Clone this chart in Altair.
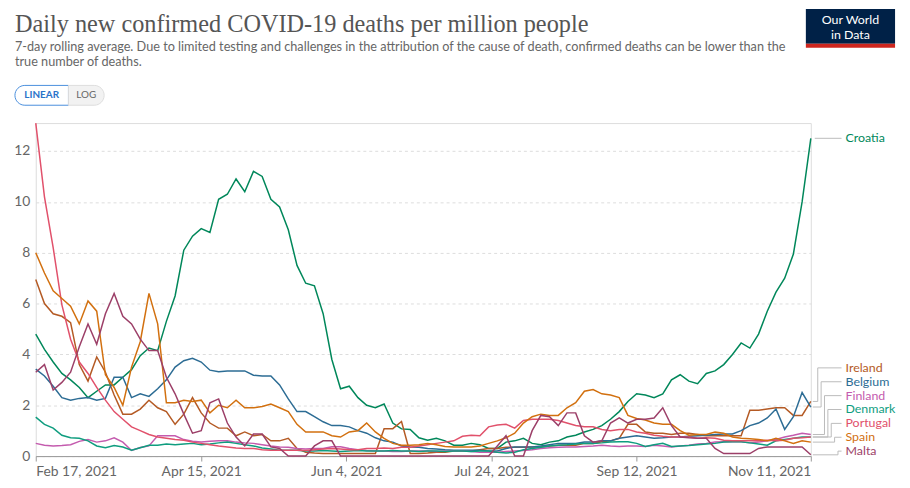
import altair as alt
import pandas as pd

# ---------------- data ----------------
START = "2021-02-17"
N_POINTS = 90  # one value every 3 days, Feb 17 -> Nov 11, 2021
SPAN_DAYS = 267
dates = pd.date_range(START, periods=N_POINTS, freq="3D").strftime("%Y-%m-%d").tolist()

countries = ["Croatia", "Ireland", "Belgium", "Finland", "Denmark", "Portugal", "Spain", "Malta"]
colors = ["#00875A", "#B45A24", "#2C6C94", "#C45BAE", "#0F9D7F", "#E1516B", "#D2700F", "#9C3F68"]

croatia = [4.8, 4.2, 3.7, 3.25, 3.0, 2.7, 2.3, 2.55, 2.8, 2.8,
           3.1, 3.4, 3.95, 4.25, 4.15, 5.3, 6.3, 8.1, 8.65, 8.95,
           8.8, 10.1, 10.3, 10.9, 10.4, 11.2, 11.0, 10.1, 9.8, 8.9,
           7.5, 6.8, 6.7, 5.6, 3.8, 2.65, 2.75, 2.3, 2.0, 1.9,
           2.05, 1.3, 1.07, 1.05, 0.72, 0.62, 0.7, 0.6, 0.43, 0.43,
           0.5, 0.45, 0.3, 0.3, 0.55, 0.6, 0.7, 0.5, 0.45, 0.55,
           0.6, 0.75, 0.82, 0.95, 1.05, 1.2, 1.45, 1.75, 2.15, 2.45,
           2.4, 2.3, 2.45, 3.0, 3.2, 2.95, 2.85, 3.25, 3.35, 3.6,
           4.0, 4.45, 4.25, 4.8, 5.7, 6.45, 7.0, 7.95, 10.0, 12.5]
ireland = [6.95, 6.0, 5.6, 5.5, 5.25, 3.6, 2.95, 3.9, 3.3, 2.4,
           1.65, 1.65, 1.85, 2.2, 1.9, 1.75, 1.25, 1.65, 2.3, 1.7,
           1.3, 1.1, 1.1, 0.8, 0.95, 0.8, 0.85, 0.6, 0.6, 0.7,
           0.3, 0.15, 0.12, 0.1, 0.1, 0.1, 0.1, 0.1, 0.1, 0.1,
           1.08, 1.08, 1.36, 0.1, 0.1, 0.12, 0.15, 0.15, 0.2, 0.2,
           0.2, 0.25, 0.3, 0.3, 0.35, 0.35, 0.35, 0.36, 0.36, 0.4,
           0.43, 0.43, 0.43, 0.5, 0.5, 0.56, 0.6, 0.7, 1.25, 1.25,
           0.95, 0.9, 0.9, 0.85, 0.9, 0.9, 0.85, 0.8, 0.8, 0.8,
           0.8, 0.8, 1.8, 1.8, 1.85, 1.9, 1.9, 1.6, 1.6, 2.15]
belgium = [3.42, 3.15, 2.75, 2.3, 2.2, 2.27, 2.3, 2.2, 2.27, 3.1,
           3.1, 2.3, 2.45, 2.35, 2.65, 3.0, 3.5, 3.75, 3.85, 3.7,
           3.38, 3.32, 3.35, 3.35, 3.35, 3.18, 3.15, 3.15, 2.8, 2.25,
           1.75, 1.75, 1.55, 1.35, 1.2, 1.2, 1.15, 1.0, 0.9, 0.72,
           0.6, 0.55, 0.4, 0.36, 0.35, 0.3, 0.28, 0.25, 0.23, 0.23,
           0.23, 0.23, 0.2, 0.2, 0.3, 0.36, 0.36, 0.36, 0.4, 0.45,
           0.5, 0.5, 0.5, 0.55, 0.55, 0.6, 0.6, 0.7, 0.75, 0.8,
           0.75, 0.7, 0.72, 0.75, 0.75, 0.78, 0.8, 0.82, 0.85, 0.87,
           0.87, 1.0, 1.2, 1.3, 1.5, 1.85, 1.05, 1.55, 2.5, 1.93]
finland = [0.5, 0.43, 0.4, 0.42, 0.45, 0.58, 0.65, 0.55, 0.6, 0.72,
           0.55, 0.22, 0.34, 0.4, 0.8, 0.8, 0.8, 0.65, 0.58, 0.55,
           0.58, 0.6, 0.6, 0.55, 0.52, 0.5, 0.45, 0.4, 0.36, 0.35,
           0.3, 0.28, 0.3, 0.3, 0.37, 0.37, 0.3, 0.25, 0.22, 0.2,
           0.2, 0.18, 0.18, 0.2, 0.2, 0.2, 0.18, 0.2, 0.2, 0.2,
           0.18, 0.15, 0.15, 0.15, 0.18, 0.2, 0.22, 0.25, 0.3, 0.33,
           0.35, 0.36, 0.36, 0.38, 0.4, 0.43, 0.4, 0.38, 0.4, 0.4,
           0.38, 0.43, 0.4, 0.36, 0.4, 0.43, 0.48, 0.5, 0.55, 0.56,
           0.56, 0.56, 0.52, 0.55, 0.6, 0.65, 0.75, 0.82, 0.9, 0.85]
denmark = [1.53, 1.25, 1.1, 0.82, 0.72, 0.7, 0.6, 0.4, 0.33, 0.42,
           0.36, 0.23, 0.33, 0.43, 0.43, 0.48, 0.45, 0.48, 0.5, 0.45,
           0.48, 0.52, 0.55, 0.5, 0.45, 0.4, 0.32, 0.28, 0.23, 0.23,
           0.23, 0.2, 0.2, 0.22, 0.2, 0.18, 0.2, 0.22, 0.2, 0.2,
           0.2, 0.22, 0.2, 0.2, 0.18, 0.2, 0.2, 0.18, 0.2, 0.2,
           0.18, 0.2, 0.2, 0.15, 0.12, 0.15, 0.25, 0.3, 0.35, 0.4,
           0.43, 0.45, 0.48, 0.5, 0.5, 0.52, 0.55, 0.56, 0.56, 0.5,
           0.38, 0.45, 0.5, 0.38, 0.4, 0.42, 0.45, 0.48, 0.5, 0.55,
           0.56, 0.56, 0.52, 0.48, 0.43, 0.6, 0.65, 0.7, 0.75, 0.75]
portugal = [13.1, 10.2, 8.2, 5.95, 4.6, 3.7, 3.25, 2.7, 2.2, 1.75,
            1.45, 1.15, 1.0, 0.85, 0.75, 0.7, 0.65, 0.62, 0.55, 0.5,
            0.45, 0.4, 0.36, 0.32, 0.3, 0.3, 0.25, 0.23, 0.23, 0.23,
            0.23, 0.22, 0.25, 0.28, 0.3, 0.28, 0.25, 0.25, 0.3, 0.3,
            0.32, 0.3, 0.35, 0.35, 0.4, 0.45, 0.5, 0.55, 0.6, 0.78,
            0.82, 0.8, 1.15, 1.22, 1.25, 1.1, 1.4, 1.45, 1.45, 1.45,
            1.4, 1.3, 1.2, 1.15, 1.15, 1.05, 1.0, 1.05, 1.05, 0.95,
            0.9, 0.82, 0.78, 0.75, 0.75, 0.75, 0.7, 0.72, 0.7, 0.62,
            0.6, 0.6, 0.6, 0.6, 0.62, 0.6, 0.62, 0.7, 0.72, 0.75]
spain = [8.0, 7.2, 6.5, 6.2, 5.9, 5.2, 6.1, 5.7, 3.2, 2.7,
         2.0, 3.5, 4.5, 6.4, 5.2, 2.1, 2.1, 2.2, 2.15, 2.2,
         1.7, 2.0, 1.9, 2.2, 1.9, 1.9, 1.95, 2.05, 1.9, 1.75,
         1.25, 0.95, 0.95, 0.95, 0.8, 0.75, 0.95, 1.0, 1.3, 0.95,
         0.7, 0.5, 0.43, 0.43, 0.45, 0.5, 0.45, 0.38, 0.36, 0.36,
         0.36, 0.4, 0.5, 0.6, 0.72, 0.9, 1.3, 1.55, 1.65, 1.6,
         1.6, 1.9, 2.1, 2.55, 2.62, 2.45, 2.4, 2.3, 1.6, 1.48,
         1.42, 1.3, 1.25, 1.25, 1.0, 0.82, 0.85, 0.85, 0.95, 0.9,
         0.75, 0.7, 0.68, 0.65, 0.6, 0.7, 0.6, 0.5, 0.6, 0.55]
malta = [3.3, 3.6, 2.6, 2.9, 3.3, 4.3, 5.2, 4.4, 5.6, 6.4,
         5.5, 5.2, 4.6, 4.15, 4.15, 3.1, 2.45, 1.65, 0.9, 1.0,
         2.1, 2.25, 1.3, 0.75, 0.4, 0.87, 0.87, 0.36, 0.3, 0.0,
         0.0, 0.0, 0.4, 0.6, 0.6, 0.0, 0.0, 0.0, 0.0, 0.0,
         0.0, 0.0, 0.0, 0.0, 0.0, 0.0, 0.0, 0.0, 0.0, 0.0,
         0.0, 0.0, 0.0, 0.4, 0.8, 0.0, 0.0, 1.0, 1.6, 1.55,
         1.2, 1.7, 1.7, 0.8, 0.55, 0.6, 1.3, 1.5, 1.3, 1.45,
         1.45, 1.5, 1.9, 1.2, 0.75, 0.72, 0.7, 0.7, 0.3, 0.1,
         0.1, 0.1, 0.1, 0.3, 0.36, 0.36, 0.36, 0.36, 0.36, 0.05]

series = {"Croatia": croatia, "Ireland": ireland, "Belgium": belgium, "Finland": finland,
          "Denmark": denmark, "Portugal": portugal, "Spain": spain, "Malta": malta}

y_ticks = [0, 2, 4, 6, 8, 10, 12]
x_tick_dates = [(2021, 2, 17), (2021, 4, 15), (2021, 6, 4), (2021, 7, 24), (2021, 9, 12), (2021, 11, 11)]

TITLE = "Daily new confirmed COVID-19 deaths per million people"
SUB1 = ("7-day rolling average. Due to limited testing and challenges in the attribution of the cause "
        "of death, confirmed deaths can be lower than the")
SUB2 = "true number of deaths."

# ---------------- layout ----------------
W, H = 782, 336
YMAX = 13.1
PXU = H / YMAX
T0 = pd.Timestamp(START, tz="UTC")


def px_to_ms(px):
    """pixel offset along the x range -> epoch milliseconds (for annotation connectors)"""
    return int((T0 + pd.Timedelta(days=px / W * SPAN_DAYS)).timestamp() * 1000)


rows = []
for c in countries:
    for d, v in zip(dates, series[c]):
        rows.append({"date": d, "country": c, "value": v})
df = pd.DataFrame(rows)

# end-of-line labels stacked to avoid overlap
ends = {c: series[c][-1] for c in countries}
others = sorted(countries[1:], key=lambda c: (ends[c], -countries.index(c)))
spacing = 14 / PXU
minv = 5 / PXU
label_v = {"Croatia": ends["Croatia"]}
prev = None
for c in others:
    v = max(ends[c], minv) if prev is None else max(ends[c], prev + spacing)
    label_v[c] = v
    prev = v
top_down = list(reversed(others))

conn_rows = []
lab_rows = []
for c in countries:
    lab_rows.append({"country": c, "value": label_v[c]})
    if c == "Croatia":
        pts = [(W + 4, ends[c]), (W + 31, label_v[c])]
    else:
        ex = W + 7 + 3.4 * top_down.index(c)
        pts = [(W + 2, ends[c]), (ex, ends[c]), (ex, label_v[c]), (W + 31, label_v[c])]
    for i, (px, vv) in enumerate(pts):
        conn_rows.append({"country": c, "seq": i, "date": px_to_ms(px), "value": vv})
conn_df = pd.DataFrame(conn_rows)
lab_df = pd.DataFrame(lab_rows)

yscale = alt.Scale(domain=[0, YMAX], nice=False, zero=True)
cscale = alt.Scale(domain=countries, range=colors)
xdomain = [alt.DateTime(year=2021, month=2, date=17, utc=True),
           alt.DateTime(year=2021, month=11, date=11, utc=True)]
xvals = [alt.DateTime(year=y, month=m, date=d, utc=True) for (y, m, d) in x_tick_dates]

xaxis = alt.Axis(values=xvals, format="%b %-d, %Y", labelFlush=True,
                 grid=False, domainColor="#999999", tickColor="#999999", tickSize=5,
                 labelPadding=4, labelFontSize=14, labelFont="Lato", labelColor="#666666",
                 title=None)
yaxis = alt.Axis(values=y_ticks, grid=True, gridDash=[3, 3], gridColor="#dddddd",
                 domain=False, ticks=False, labelPadding=6, labelFontSize=14,
                 labelFont="Lato", labelColor="#666666", title=None)
xscale = alt.Scale(type="utc", domain=xdomain)

X = alt.X("date:T", scale=xscale, axis=xaxis)
Y = alt.Y("value:Q", scale=yscale, axis=yaxis)

lines = alt.Chart(df).mark_line(strokeWidth=1.5).encode(
    x=X, y=Y,
    color=alt.Color("country:N", scale=cscale, legend=None),
    detail="country:N",
)

connectors = alt.Chart(conn_df).mark_line(strokeWidth=1, color="#bbbbbb").encode(
    x=X, y=Y,
    detail="country:N",
    order="seq:Q",
)

labels = alt.Chart(lab_df).mark_text(align="left", baseline="middle", fontSize=12.5, font="Lato").encode(
    x=alt.value(W + 35),
    y=Y,
    text="country:N",
    color=alt.Color("country:N", scale=cscale, legend=None),
)

dummy = pd.DataFrame({"k": [0]})


def txt(s, x, y, size, color, font="Lato", weight="normal", align="left", baseline="alphabetic"):
    return alt.Chart(dummy).mark_text(text=s, fontSize=size, color=color, font=font,
                                      fontWeight=weight, align=align, baseline=baseline).encode(
        x=alt.value(x), y=alt.value(y))


def box(x1, x2, y1, y2, **kw):
    return alt.Chart(dummy).mark_rect(**kw).encode(
        x=alt.value(x1), x2=alt.value(x2), y=alt.value(y1), y2=alt.value(y2))


deco = [
    txt(TITLE, -21, -92, 24.5, "#555555", font="Liberation Serif"),
    txt(SUB1, -21, -73, 12.8, "#666666"),
    txt(SUB2, -21, -58, 12.8, "#666666"),
    box(-21, 33, -38, -18, fill="white", stroke="#4a8fdd", strokeWidth=1,
        cornerRadiusTopLeft=10, cornerRadiusBottomLeft=10),
    box(33, 69, -38, -18, fill="#f2f2f2", stroke="#dddddd", strokeWidth=1,
        cornerRadiusTopRight=10, cornerRadiusBottomRight=10),
    txt("LINEAR", 6, -28, 10, "#2a73c9", weight="bold", align="center", baseline="middle"),
    txt("LOG", 51, -28, 10, "#666666", align="center", baseline="middle"),
    box(777, 867, -115, -80, fill="#002147"),
    box(777, 867, -80, -76, fill="#ce261e"),
    txt("Our World", 822, -104, 12.5, "white", align="center", baseline="middle"),
    txt("in Data", 822, -89, 12.5, "white", align="center", baseline="middle"),
]

chart = alt.layer(lines, connectors, labels, *deco).properties(
    width=W, height=H,
    padding={"left": 28, "top": 114, "right": 92, "bottom": 20},
    autosize=alt.AutoSizeParams(type="none"),
).configure_view(stroke=None).configure(background="white")

chart.save("out.html", embed_options={"renderer": "svg", "actions": False})
